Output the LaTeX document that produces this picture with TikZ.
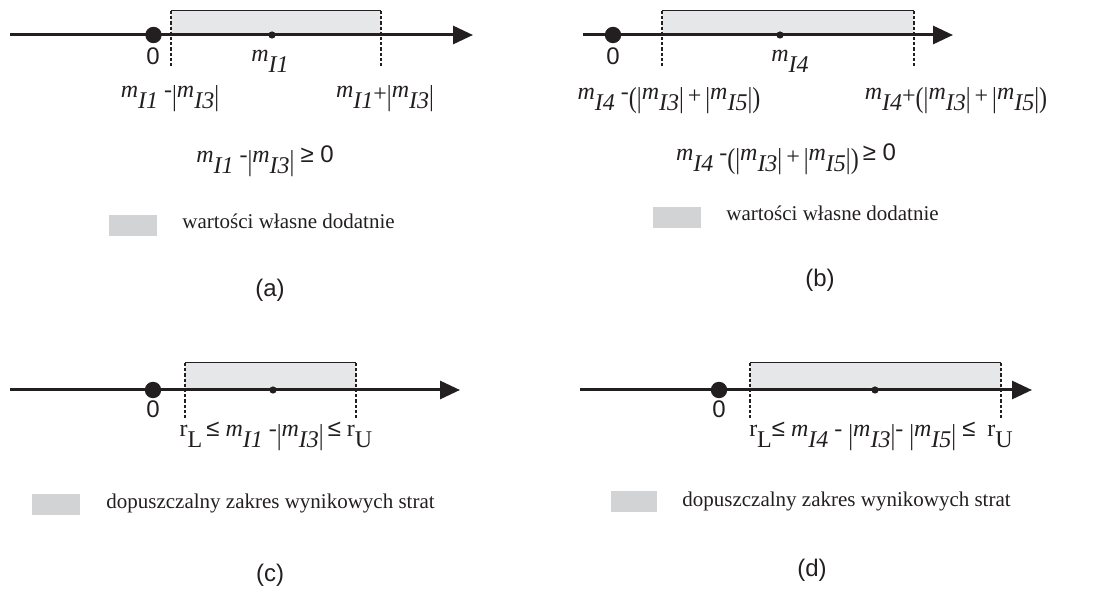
\documentclass[tikz,border=0pt]{standalone}
\usepackage{fontspec}
\usepackage{graphicx}
\setmainfont{Liberation Serif}
\newfontfamily\arialf{Liberation Sans}
\usetikzlibrary{arrows.meta}
\definecolor{zonegray}{HTML}{E6E7E8}
\definecolor{leggray}{HTML}{D1D3D4}
\definecolor{ink}{HTML}{231F20}
\newcommand\lowr[1]{\raisebox{-0.42em}{#1}}
\newcommand\mI[1]{\textit{m}\lowr{\textit{I#1}}}
\newcommand\vb{\raisebox{-0.3em}{\scalebox{1}[1.2]{|}}}
\newcommand\lpar{\raisebox{-0.3em}{\scalebox{1}[1.2]{(}}}
\newcommand\rpar{\raisebox{-0.3em}{\scalebox{1}[1.2]{)}}}
\newcommand\pl{\raisebox{-0.15em}{+}}
\newcommand\ar[1]{{\arialf #1}}
\begin{document}
\begin{tikzpicture}[x=0.5pt,y=-0.5pt,
  axisline/.style={line width=1.5pt,draw=ink,-{Triangle[length=10pt,width=9pt]}},
  zone/.style={fill=zonegray,draw=none},
  zonetop/.style={line width=0.5pt,draw=ink},
  zoneside/.style={line width=0.6pt,draw=ink,dash pattern=on 1.6pt off 1pt},
  bigdot/.style={circle,fill=ink,inner sep=0pt,minimum size=8.2pt},
  smalldot/.style={circle,fill=ink,inner sep=0pt,minimum size=3.6pt},
  zerolab/.style={font=\arialf\fontsize{12}{14}\selectfont,text=ink,anchor=base,inner sep=0pt},
  mathlab/.style={font=\fontsize{12}{14}\selectfont,text=ink,anchor=base,inner sep=0pt},
  legtext/.style={font=\fontsize{10.5}{12}\selectfont,text=ink,anchor=base west,inner sep=0pt},
  legbox/.style={fill=leggray,draw=none},
  caption/.style={font=\arialf\fontsize{12}{14}\selectfont,text=ink,inner sep=0pt}]
\useasboundingbox (0,0) rectangle (1104,593);

% ---------- (a) ----------
\fill[zone] (171,11) rectangle (381,35);
\coordinate (aS) at (10,35);
\coordinate (aE) at (473,35);
\draw[axisline] (aS) -- (aE);
\coordinate (aL1) at (171,11); \coordinate (aL2) at (171,66);
\coordinate (aR1) at (381,11); \coordinate (aR2) at (381,66);
\draw[zonetop] (aL1) -- (aR1);
\draw[zoneside] (aL1) -- (aL2);
\draw[zoneside] (aR1) -- (aR2);
\node[bigdot] (a0) at (153.5,35) {};
\node[smalldot] (am) at (272,35) {};
\node[zerolab] (a0l) at (153,65) {0};
\node[mathlab] (aml) at (270,62) {\mI{1}};
\node[mathlab] (all) at (170,98) {\mI{1} -\vb\mI{3}\vb};
\node[mathlab] (arl) at (385,98) {\mI{1}\pl\vb\mI{3}\vb};
\node[mathlab] (af) at (265,163) {\mI{1} -\vb\mI{3}\vb\ \ar{≥\ 0}};
\fill[legbox] (109,215) rectangle (157,236);
\node[legtext] (at) at (182,229) {wartości własne dodatnie};
\node[caption] (ac) at (270,290) {(a)};

% ---------- (b) ----------
\fill[zone] (662,11) rectangle (914,35);
\coordinate (bS) at (583,35);
\coordinate (bE) at (953,35);
\draw[axisline] (bS) -- (bE);
\coordinate (bL1) at (662,11); \coordinate (bL2) at (662,66);
\coordinate (bR1) at (914,11); \coordinate (bR2) at (914,66);
\draw[zonetop] (bL1) -- (bR1);
\draw[zoneside] (bL1) -- (bL2);
\draw[zoneside] (bR1) -- (bR2);
\node[bigdot] (b0) at (613,35) {};
\node[smalldot] (bm) at (780,35) {};
\node[zerolab] (b0l) at (613,65) {0};
\node[mathlab] (bml) at (790,62) {\mI{4}};
\node[mathlab] (bll) at (669,100) {\mI{4} -\lpar\vb\mI{3}\vb\,\pl\,\vb\mI{5}\vb\rpar};
\node[mathlab] (brl) at (956,100) {\mI{4}\pl\lpar\vb\mI{3}\vb\,\pl\,\vb\mI{5}\vb\rpar};
\node[mathlab] (bf) at (786,161) {\mI{4} -\lpar\vb\mI{3}\vb\,\pl\,\vb\mI{5}\vb\rpar\,\ar{≥\ 0}};
\fill[legbox] (653,207) rectangle (701,228);
\node[legtext] (bt) at (726,221) {wartości własne dodatnie};
\node[caption] (bc) at (820,280) {(b)};

% ---------- (c) ----------
\fill[zone] (185,363) rectangle (356,390);
\coordinate (cS) at (10,390);
\coordinate (cE) at (460,390);
\draw[axisline] (cS) -- (cE);
\coordinate (cL1) at (185,363); \coordinate (cL2) at (185,418);
\coordinate (cR1) at (356,363); \coordinate (cR2) at (356,418);
\draw[zonetop] (cL1) -- (cR1);
\draw[zoneside] (cL1) -- (cL2);
\draw[zoneside] (cR1) -- (cR2);
\node[bigdot] (c0) at (153,390) {};
\node[smalldot] (cm) at (273,390) {};
\node[zerolab] (c0l) at (153,418) {0};
\node[mathlab] (cf) at (276,437) {r\lowr{L}\,\ar{≤} \mI{1} -\vb\mI{3}\vb\,\ar{≤} r\lowr{U}};
\fill[legbox] (32,494) rectangle (80,515);
\node[legtext] (ct) at (106,509) {dopuszczalny zakres wynikowych strat};
\node[caption] (cc) at (270,575) {(c)};

% ---------- (d) ----------
\fill[zone] (750,363) rectangle (1001,390);
\coordinate (dS) at (580,390);
\coordinate (dE) at (1032,390);
\draw[axisline] (dS) -- (dE);
\coordinate (dL1) at (750,363); \coordinate (dL2) at (750,418);
\coordinate (dR1) at (1001,363); \coordinate (dR2) at (1001,418);
\draw[zonetop] (dL1) -- (dR1);
\draw[zoneside] (dL1) -- (dL2);
\draw[zoneside] (dR1) -- (dR2);
\node[bigdot] (d0) at (719,390) {};
\node[smalldot] (dm) at (875,390) {};
\node[zerolab] (d0l) at (719,418) {0};
\node[mathlab] (df) at (881,437) {r\lowr{L}\ar{≤} \mI{4} - \vb\mI{3}\vb- \vb\mI{5}\vb\ \ar{≤} \ r\lowr{U}};
\fill[legbox] (611,491) rectangle (657,512);
\node[legtext] (dt) at (682,506) {dopuszczalny zakres wynikowych strat};
\node[caption] (dc) at (812,570) {(d)};
\end{tikzpicture}
\end{document}
